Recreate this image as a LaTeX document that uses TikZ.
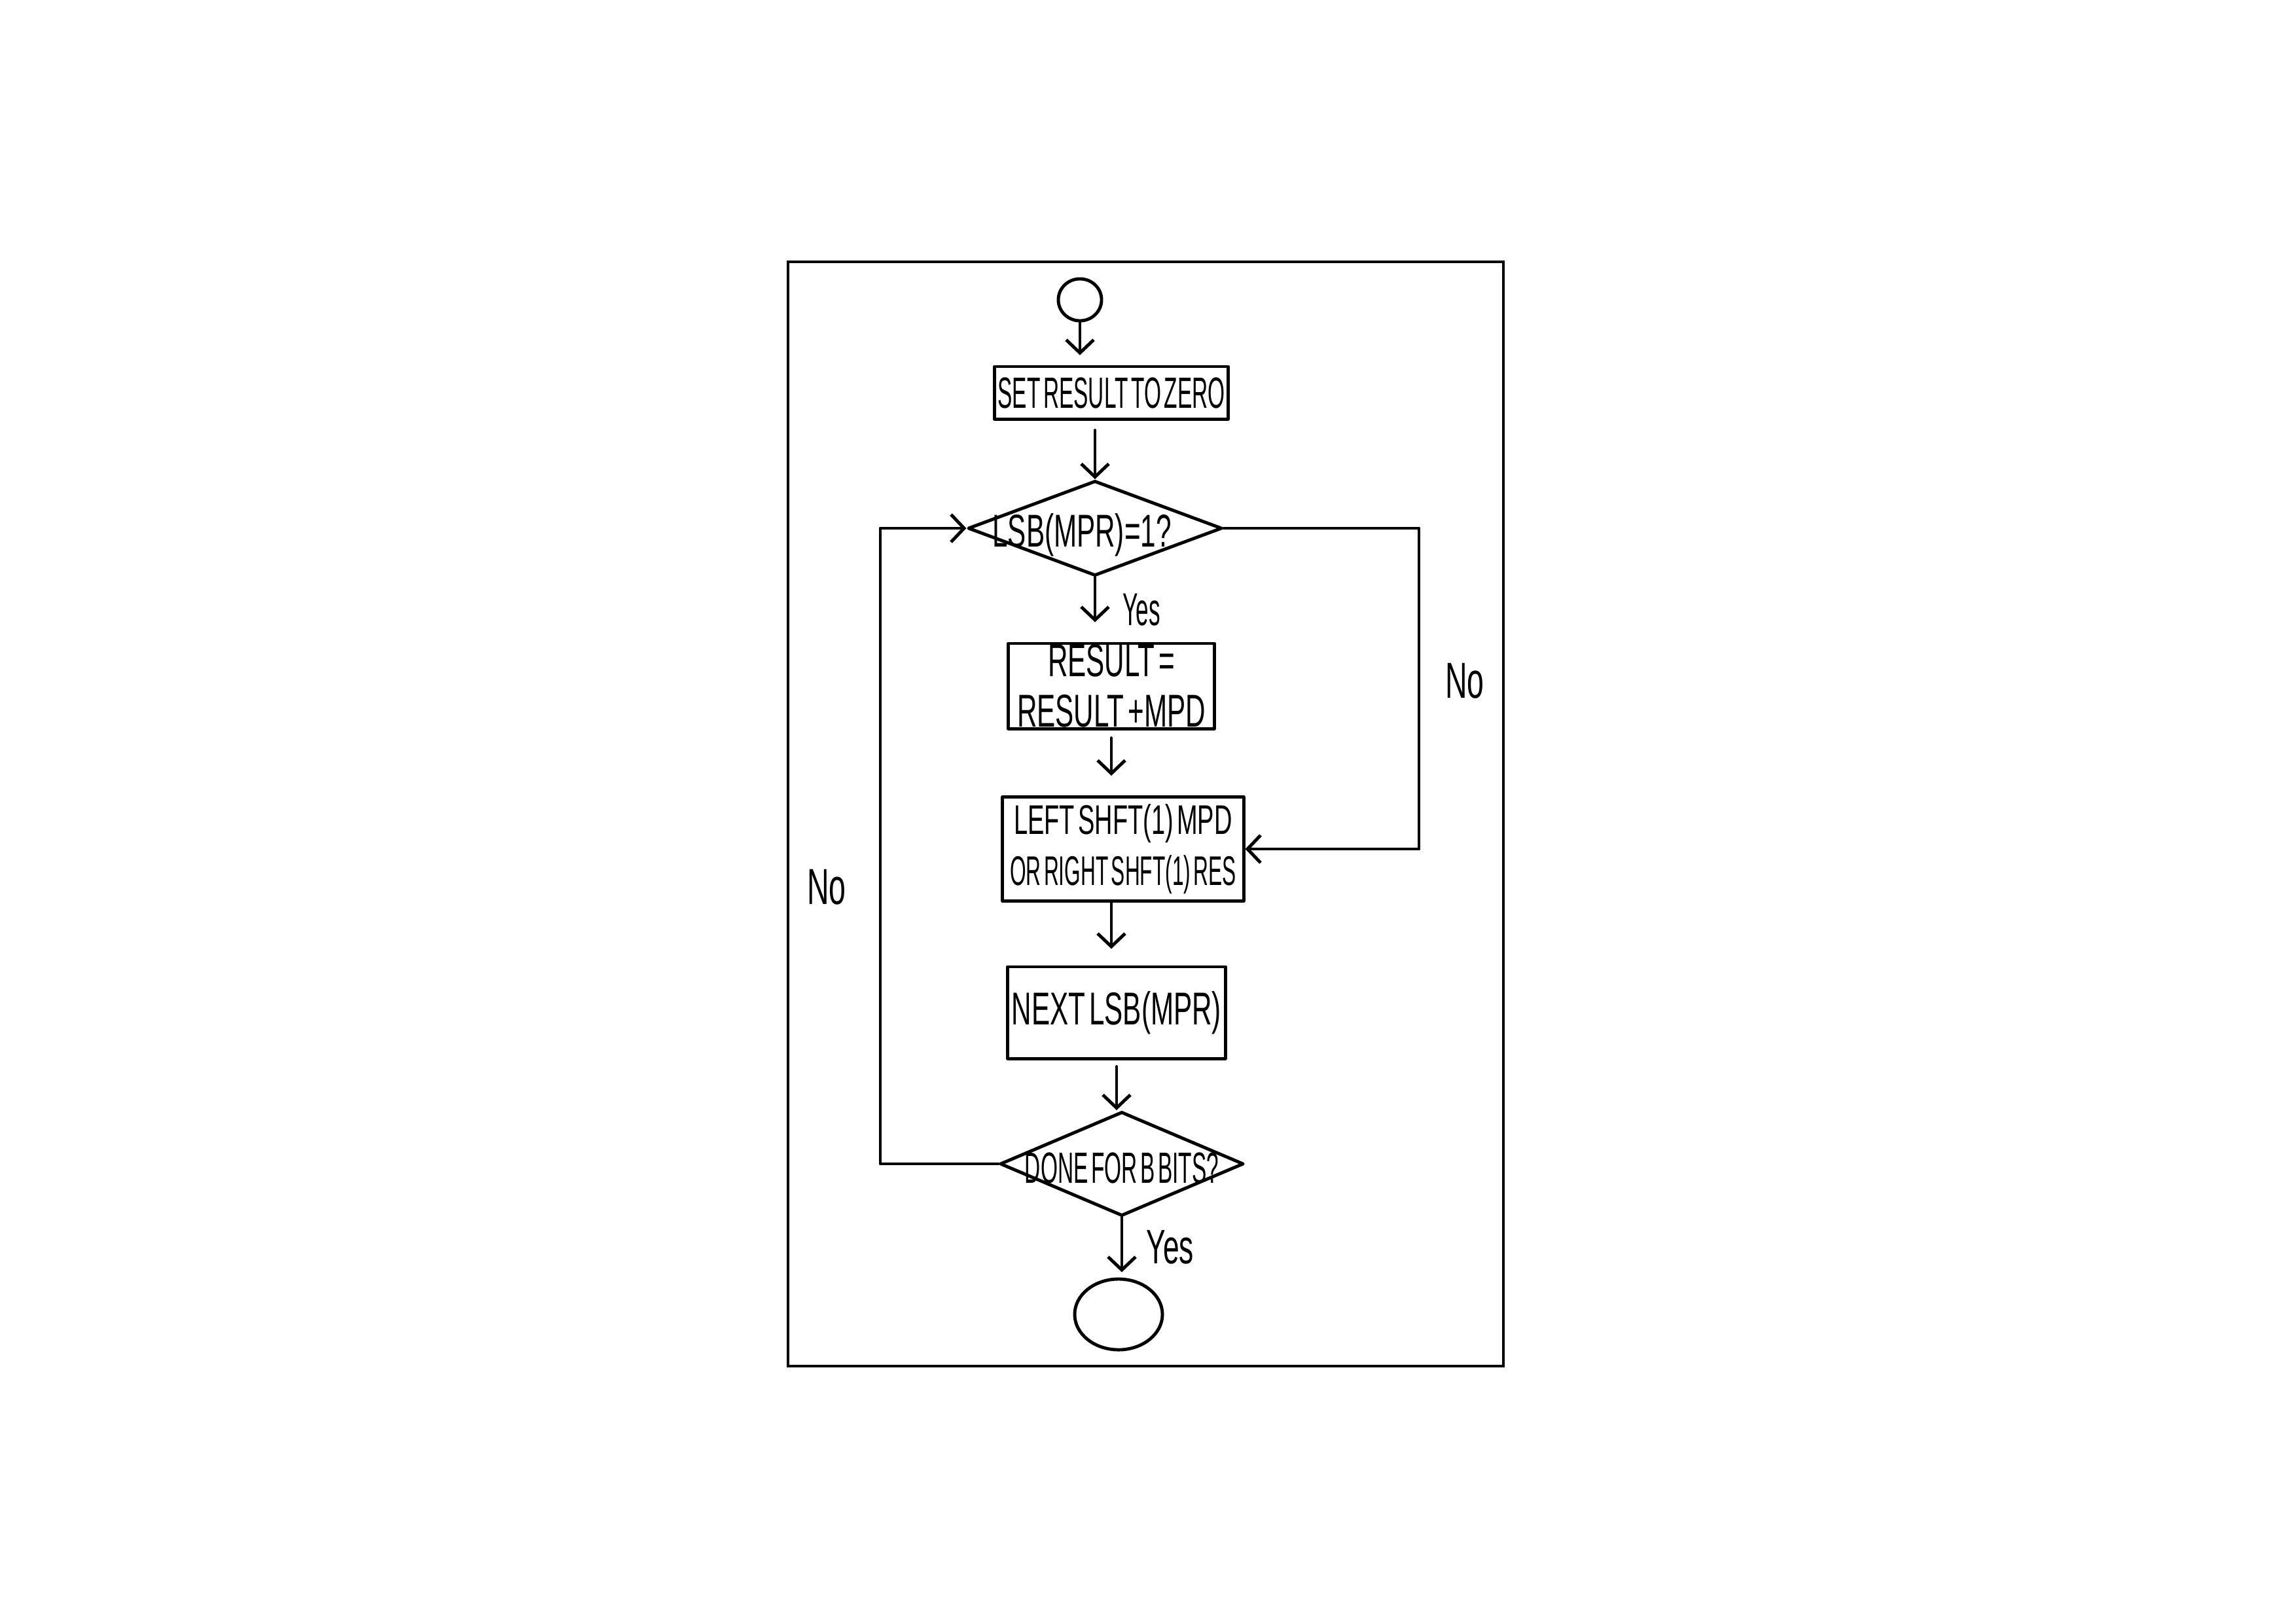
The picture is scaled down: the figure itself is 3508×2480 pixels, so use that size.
\documentclass[tikz,border=0pt]{standalone}
\usepackage{fontspec}
\setmainfont{Liberation Sans}
% narrow block-capital lettering
\newfontfamily\handA{Liberation Sans}[FakeStretch=0.5, WordSpace=0.5]
\newfontfamily\handB{Liberation Sans}[FakeStretch=0.6, WordSpace=0.5]
\usetikzlibrary{arrows.meta, shapes.geometric}

\tikzset{
  ink/.style={line width=1.4pt, line cap=round, line join=round},
  procbox/.style={ink, draw, rectangle, inner sep=0pt, align=center},
  decision/.style={ink, draw, diamond, inner sep=0pt},
  terminal/.style={ink, draw, ellipse, inner sep=0pt},
  flow/.style={ink, -{Straight Barb[length=0.2cm, width=0.42cm]}},
  txtA/.style={font=\handA\fontsize{19pt}{22pt}\selectfont},
  txtB/.style={font=\handB\fontsize{20pt}{22pt}\selectfont},
  tag/.style={font=\handB\fontsize{21pt}{24pt}\selectfont, inner sep=0pt},
}

\begin{document}
\begin{tikzpicture}[x=0.01cm, y=-0.01cm]
  % page
  \fill[white] (0,0) rectangle (3508,2480);
  \useasboundingbox (0,0) rectangle (3508,2480);

  % outer frame
  \draw[line width=1pt] (1204,400) rectangle (2297,2087);

  % blocks
  \node[terminal, minimum width=0.66cm, minimum height=0.64cm] (start) at (1650,458) {};
  \node[procbox, txtA, minimum width=3.57cm, minimum height=0.80cm] (set) at (1698,600) {SET RESULT TO ZERO};
  \node[decision, minimum width=3.88cm, minimum height=1.45cm,
        label={[txtB, xshift=-0.2cm, yshift=-0.1cm]center:LSB(MPR)=1?}] (lsb) at (1673,807) {};
  \node[procbox, txtB, minimum width=3.15cm, minimum height=1.30cm] (add) at (1698,1048) {RESULT =\\RESULT +MPD};
  \node[procbox, minimum width=3.68cm, minimum height=1.59cm,
        font=\fontsize{18pt}{22.4pt}\selectfont] (shift) at (1716,1297)
        {{\handB LEFT SHFT(1) MPD}\\{\handA OR RIGHT SHFT(1) RES}};
  \node[procbox, txtB, minimum width=3.33cm, minimum height=1.40cm] (next) at (1706,1547) {NEXT LSB(MPR)};
  \node[decision, minimum width=3.72cm, minimum height=1.59cm,
        label={[txtA, yshift=-0.06cm]center:DONE FOR B BITS?}] (done) at (1714,1778) {};
  \node[terminal, minimum width=1.34cm, minimum height=1.08cm] (end) at (1709,2008) {};

  % loop corners
  \coordinate (lc) at (1345,1300);
  \coordinate (rc) at (2168,1050);

  % main flow
  \draw[flow, shorten >=0.15cm] (start.south) -- (start.south |- set.north);
  \draw[flow, shorten <=0.15cm] (set.south -| lsb.north) -- (lsb.north);
  \draw[flow, shorten >=0.3cm] (lsb.south) -- (lsb.south |- add.north)
    node[tag, midway, anchor=west, xshift=0.4cm, font=\handA\fontsize{20pt}{22pt}\selectfont] (yes1) {Yes};
  \draw[flow, shorten <=0.12cm, shorten >=0.3cm] (add.south) -- (add.south |- shift.north);
  \draw[flow, shorten >=0.25cm] (shift.south -| add.south) -- (add.south |- next.north);
  \draw[flow, shorten <=0.1cm] (next.south) -- (next.south |- done.north);
  \draw[flow, shorten >=0.08cm] (done.south) -- (done.south |- end.north)
    node[tag, midway, anchor=west, xshift=0.35cm] (yes2) {Yes};

  % loops back
  \draw[flow] (done.west) -| (lc) |- (lsb.west);
  \draw[flow] (lsb.east) -| (rc) |- (shift.east);

  % branch labels
  \node[tag, font=\handB\fontsize{22pt}{24pt}\selectfont] (noL) at (1263,1355) {No};
  \node[tag, font=\handB\fontsize{22pt}{24pt}\selectfont] (noR) at (2238,1040) {No};
\end{tikzpicture}
\end{document}
